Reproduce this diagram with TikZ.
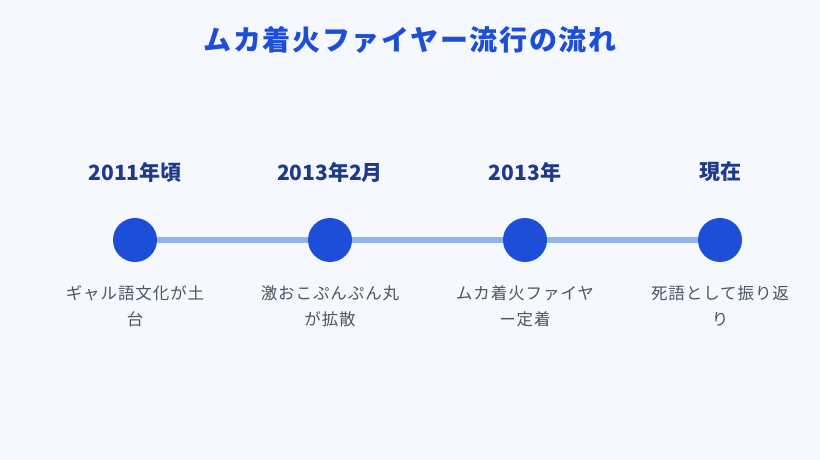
\documentclass[tikz,border=0pt]{standalone}
\usepackage{fontspec}
\setmainfont{Noto Sans CJK JP}
\newfontfamily\titlefont[LetterSpace=6]{Noto Sans CJK JP}
\newfontfamily\descfont[LetterSpace=5.5]{Noto Sans CJK JP}
\usetikzlibrary{positioning}
\definecolor{bgblue}{HTML}{F5F8FF}
\definecolor{dotblue}{HTML}{1D4ED8}
\definecolor{lineblue}{HTML}{93B4E8}
\definecolor{yearblue}{HTML}{1E3A8A}
\definecolor{descgray}{HTML}{4B5563}
\tikzset{
  dot/.style={circle, fill=dotblue, minimum size=44pt, inner sep=0pt},
  year/.style={font=\fontsize{21}{24}\selectfont\bfseries, text=yearblue, inner sep=0pt},
  desc/.style={font=\descfont\fontsize{16.5}{26}\selectfont, text=descgray, align=center, inner sep=0pt, yshift=2pt},
}
\begin{document}
\begin{tikzpicture}[x=1pt, y=-1pt, node distance=68pt]
\fill[bgblue] (0,0) rectangle (820,460);
\useasboundingbox (0,0) rectangle (820,460);
\node (title) [font=\titlefont\fontsize{28}{32}\selectfont\bfseries, text=dotblue] at (410,40) {ムカ着火ファイヤー流行の流れ};

\node (A) [dot] at (135,240) {};
\node (B) [dot] at (330,240) {};
\node (C) [dot] at (525,240) {};
\node (D) [dot] at (720,240) {};

\draw[lineblue, line width=6pt] (A) -- (B);
\draw[lineblue, line width=6pt] (B) -- (C);
\draw[lineblue, line width=6pt] (C) -- (D);

\node (Ay) [year, above of=A] {2011年頃};
\node (By) [year, above of=B] {2013年2月};
\node (Cy) [year, above of=C] {2013年};
\node (Dy) [year, above of=D] {現在};

\node (Ad) [desc, below of=A] {ギャル語文化が土\\台};
\node (Bd) [desc, below of=B] {激おこぷんぷん丸\\が拡散};
\node (Cd) [desc, below of=C] {ムカ着火ファイヤ\\ー定着};
\node (Dd) [desc, below of=D] {死語として振り返\\り};
\end{tikzpicture}
\end{document}
